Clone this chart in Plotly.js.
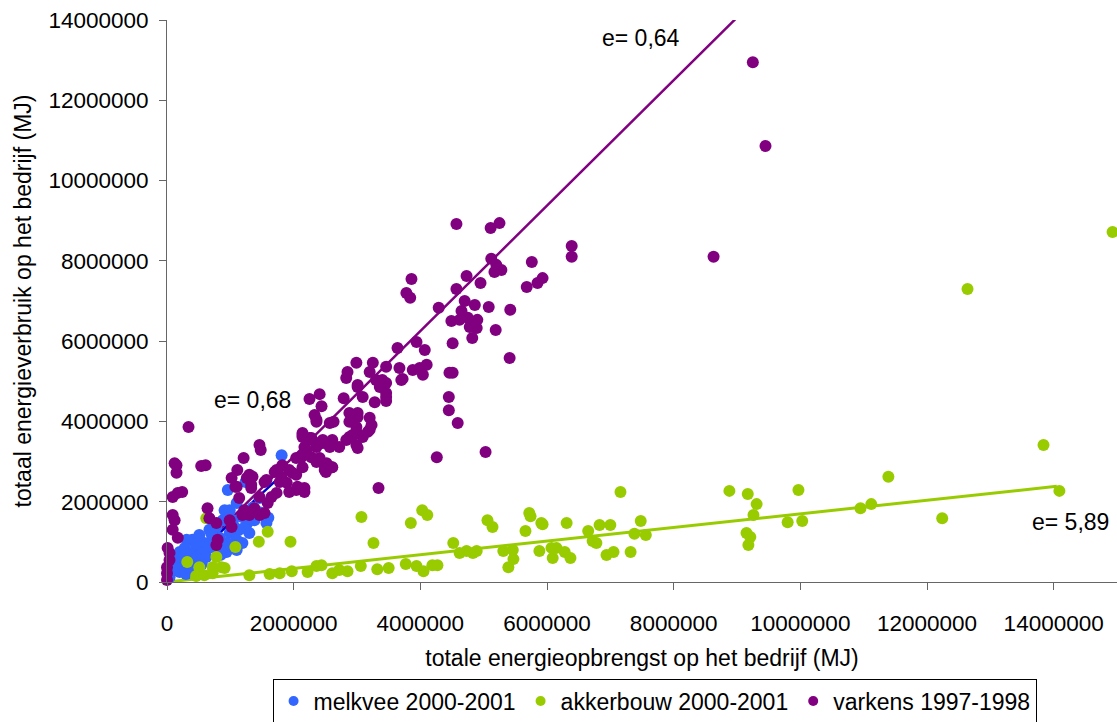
<!DOCTYPE html>
<html>
<head>
<meta charset="utf-8">
<script src="https://cdn.plot.ly/plotly-3.0.1.min.js"></script>
<style>
  html, body { margin: 0; padding: 0; background: #ffffff; }
  #chart { width: 1117px; height: 722px; }
</style>
</head>
<body>
<div id="chart"></div>
<script>
// Energy balance per farm: total energy yield (x) against total energy use (y).
// All values below are in millions of MJ.

const seriesNames = ['melkvee 2000-2001', 'akkerbouw 2000-2001', 'varkens 1997-1998'];

// melkvee 2000-2001
const melkveeX = [1.81,0.96,1.24,0.91,1.10,1.46,1.38,1.57,1.27,1.14,0.99,1.10,0.94,0.83,0.67,0.51,0.40,0.31,0.59,0.67,0.46,0.36,0.20,0.15,0.25,0.09,0.40,0.56,0.80,0.94,1.19,1.30,0.78,1.04,0.88,1.19,1.46,0.99,0.46,0.20,0.31,0.51,0.72,1.10,0.20,0.04,0.36,0.62,0.75,0.85,1.02,0.55,0.30,1.22,1.35,1.60,0.70,1.05,0.45,0.28,0.12];
const melkveeY = [3.16,2.29,2.49,1.79,1.97,2.09,1.54,1.47,1.47,1.30,1.22,0.80,0.97,1.10,1.30,1.17,1.05,1.05,0.97,0.85,0.85,0.72,0.60,0.47,0.37,0.30,0.55,0.72,0.80,0.75,0.97,1.22,1.37,1.54,1.54,1.62,1.74,1.79,0.62,0.75,0.55,1.05,1.10,1.05,0.25,0.12,0.37,0.62,0.95,0.68,0.90,0.45,0.20,1.35,1.85,1.60,1.20,1.40,0.95,0.85,0.40];

// akkerbouw 2000-2001
const akkerbouwX = [14.93,12.64,13.84,14.09,11.39,11.12,10.95,12.24,9.97,10.03,9.80,8.88,9.17,9.31,9.26,9.15,9.21,9.18,
  7.16,5.93,6.31,6.65,6.83,7.00,7.48,7.38,7.56,6.72,6.78,5.88,6.07,6.15,6.28,6.09,6.37,6.94,7.05,7.32,
  3.07,3.85,4.03,4.11,3.26,5.06,5.14,5.72,5.74,5.91,5.66,4.52,4.62,4.73,4.83,4.89,5.31,5.46,5.47,5.39,
  2.61,2.72,2.85,3.06,3.32,3.50,3.77,3.94,4.05,4.19,4.27,
  1.59,1.45,1.95,1.08,0.32,0.51,0.78,0.72,0.86,0.91,0.46,0.59,0.72,1.30,1.62,1.78,1.97,2.22,2.36,2.44,0.62];
const akkerbouwY = [8.72,7.30,3.41,2.27,2.62,1.94,1.84,1.59,2.29,1.52,1.49,2.27,2.19,1.94,1.67,1.22,1.12,0.92,
  2.24,1.44,1.47,1.27,1.42,1.42,1.52,1.20,1.17,1.02,0.97,0.77,0.85,0.85,0.75,0.60,0.60,0.67,0.75,0.75,
  1.62,1.47,1.79,1.67,0.97,1.54,1.37,1.72,1.64,1.47,1.27,0.97,0.72,0.77,0.72,0.77,0.77,0.80,0.57,0.37,
  0.22,0.30,0.27,0.40,0.32,0.35,0.45,0.40,0.27,0.42,0.42,
  1.25,1.00,1.00,0.87,0.50,0.37,0.62,0.37,0.37,0.35,0.15,0.17,0.22,0.17,0.20,0.22,0.27,0.25,0.40,0.42,1.59];

// varkens 1997-1998
const varkensX = [9.25,9.45,8.63,6.39,6.39,
  0.34,0.12,0.15,0.17,0.24,0.54,0.61,1.46,1.48,1.21,1.02,1.11,1.26,1.35,1.08,1.33,1.54,1.70,1.78,1.82,1.93,2.04,2.12,2.20,2.14,2.28,2.36,2.46,2.36,2.49,2.51,2.60,2.57,2.72,2.04,2.17,1.93,1.73,
  2.25,2.41,2.44,2.33,2.36,2.63,2.79,2.85,2.83,2.99,3.01,3.09,3.20,3.25,3.30,3.36,3.46,3.46,3.46,3.46,3.28,2.88,3.01,2.88,2.99,3.20,3.23,3.17,3.09,2.88,2.83,2.99,3.01,2.99,
  3.64,3.67,3.72,3.94,4.07,3.88,3.99,4.10,4.04,3.40,4.29,4.51,4.46,4.51,4.45,4.45,4.59,4.26,5.03,3.34,
  4.57,5.11,5.25,5.12,5.20,5.17,5.28,5.76,5.68,5.85,5.93,4.73,4.95,4.57,4.70,4.86,5.08,5.42,4.65,4.49,4.62,4.75,4.90,4.78,4.89,4.82,5.19,5.41,3.86,3.78,3.84,
  2.49,2.46,2.93,3.20,3.01,3.46,3.01,3.36,3.70,2.14,2.25,2.17,2.28,
  0.15,0.09,0.09,0.12,0.09,0.17,0.01,0.04,0.00,0.00,0.00,0.04,
  0.64,0.67,0.78,0.99,1.02,0.80,0.78,1.10,1.14,1.22,1.19,1.30,1.46,1.54,1.38,1.59,1.65,1.46,1.30,1.33,1.57,1.73,1.81,1.89,2.06,2.17,1.98,2.14,2.04,2.20,2.14,2.28,2.36,2.41,2.52,2.61,2.61,2.57,2.36];
const varkensY = [12.95,10.86,8.10,8.37,8.10,
  3.86,2.96,2.72,2.22,2.24,2.89,2.91,3.41,3.29,3.09,2.59,2.79,2.59,2.62,2.37,2.34,2.49,2.74,2.49,2.91,2.79,2.67,3.11,3.29,3.61,3.59,3.46,3.54,2.99,2.91,2.74,2.86,3.36,3.36,2.29,2.34,2.24,2.22,
  4.56,4.68,4.38,4.16,4.04,3.99,4.58,5.23,5.08,5.46,4.91,4.61,5.23,5.46,5.03,4.86,5.36,4.96,4.61,4.51,4.48,4.21,4.11,3.99,3.86,4.09,3.91,3.74,3.61,3.61,3.54,3.41,3.34,3.74,
  5.83,5.33,5.06,5.98,5.78,5.28,5.33,5.41,5.16,5.03,6.83,5.95,5.21,5.21,4.61,4.28,3.96,3.11,3.24,2.34,
  8.92,8.82,8.94,8.05,7.90,7.72,7.77,7.97,7.35,7.45,7.57,7.62,7.45,7.30,7.00,6.90,6.85,6.78,6.75,6.50,6.53,6.58,6.53,6.35,6.33,6.08,6.28,5.58,7.55,7.20,7.08,
  2.79,3.46,3.66,3.79,4.21,4.71,4.86,4.96,5.03,3.71,3.59,3.36,3.11,
  2.91,2.12,1.67,1.54,1.30,1.10,0.85,0.72,0.37,0.22,0.05,0.55,
  1.84,1.59,1.47,1.54,1.37,1.05,0.92,2.37,2.09,1.79,1.67,1.67,1.67,1.72,1.84,1.97,2.12,2.12,2.67,2.42,2.54,2.79,2.62,2.47,2.37,2.24,2.72,2.86,3.09,3.24,3.66,3.54,3.36,3.09,2.96,2.86,3.54,3.96,3.99];

// Energy efficiency e (yield / use) per sector, with the x-span of each trend line
const eMelkvee = 0.68;
const eAkkerbouw = 5.89;
const eVarkens = 0.64;
const melkveeLineX = [0, 1.81];
const akkerbouwLineX = [0, 14.05];
const varkensLineX = [0, 9.45];

const xTicks = [0, 2, 4, 6, 8, 10, 12, 14];
const yTicks = [0, 2, 4, 6, 8, 10, 12, 14];

const colors = { melkvee: '#3366ff', melkveeLine: '#0000cc', akkerbouw: '#99cc00', varkens: '#800080' };
const FONT = 'Arial, "Liberation Sans", sans-serif';
const M = 1e6;
const toMJ = arr => arr.map(v => v * M);

function trend(xs, e) {
  return { x: toMJ(xs), y: toMJ(xs.map(v => v / e)) };
}

function points(xs, ys, color) {
  return {
    type: 'scatter', mode: 'markers',
    x: toMJ(xs), y: toMJ(ys),
    marker: { color: color, size: 12, line: { width: 0 } },
    cliponaxis: false, showlegend: false, hoverinfo: 'x+y'
  };
}

function line(xs, e, color, width) {
  const t = trend(xs, e);
  return {
    type: 'scatter', mode: 'lines', x: t.x, y: t.y,
    line: { color: color, width: width }, showlegend: false, hoverinfo: 'skip'
  };
}

function legendEntry(name, color) {
  return {
    type: 'scatter', mode: 'markers', x: [null], y: [null], name: name,
    marker: { color: color, size: 10 }, showlegend: true, hoverinfo: 'skip'
  };
}

const traces = [
  line(akkerbouwLineX, eAkkerbouw, colors.akkerbouw, 3),
  line(varkensLineX, eVarkens, colors.varkens, 2.5),
  line(melkveeLineX, eMelkvee, colors.melkveeLine, 2.5),
  points(melkveeX, melkveeY, colors.melkvee),
  points(akkerbouwX, akkerbouwY, colors.akkerbouw),
  points(varkensX, varkensY, colors.varkens),
  legendEntry(seriesNames[0], colors.melkvee),
  legendEntry(seriesNames[1], colors.akkerbouw),
  legendEntry(seriesNames[2], colors.varkens)
];

function fmtE(e) { return 'e= ' + e.toFixed(2).replace('.', ','); }

const axisCommon = {
  showgrid: false, zeroline: false,
  showline: true, linecolor: '#666666', linewidth: 1,
  ticks: 'outside', ticklen: 7, tickwidth: 1, tickcolor: '#666666',
  tickfont: { family: FONT, size: 22.5, color: '#000000' },
  automargin: false, fixedrange: true
};

const layout = {
  width: 1117, height: 722,
  margin: { l: 167, r: 0, t: 20, b: 140, pad: 0 },
  paper_bgcolor: '#ffffff', plot_bgcolor: '#ffffff',
  font: { family: FONT, size: 23, color: '#000000' },
  xaxis: Object.assign({}, axisCommon, {
    range: [0, 15 * M],
    tickvals: toMJ(xTicks), ticktext: toMJ(xTicks).map(v => String(v)),
    ticklabelstandoff: 14,
    title: { text: 'totale energieopbrengst op het bedrijf (MJ)', font: { family: FONT, size: 23 }, standoff: 14 }
  }),
  yaxis: Object.assign({}, axisCommon, {
    range: [0, 14 * M],
    tickvals: toMJ(yTicks), ticktext: toMJ(yTicks).map(v => String(v)),
    ticklabelstandoff: 6,
    title: { text: 'totaal energieverbruik op het bedrijf (MJ)', font: { family: FONT, size: 23 }, standoff: 10 }
  }),
  showlegend: true,
  legend: {
    orientation: 'h', xref: 'container', yref: 'container',
    x: 0.586, xanchor: 'center', y: 0.029, yanchor: 'middle',
    bordercolor: '#000000', borderwidth: 1, bgcolor: '#ffffff',
    font: { family: FONT, size: 23, color: '#000000' },
    itemwidth: 30, tracegroupgap: 0
  },
  annotations: [
    { xref: 'x', yref: 'y', x: 7.49 * M, y: 13.55 * M, text: fmtE(eVarkens), showarrow: false, font: { family: FONT, size: 23, color: '#000' } },
    { xref: 'x', yref: 'y', x: 1.35 * M, y: 4.53 * M, text: fmtE(eMelkvee), showarrow: false, font: { family: FONT, size: 23, color: '#000' } },
    { xref: 'x', yref: 'y', x: 14.27 * M, y: 1.49 * M, text: fmtE(eAkkerbouw), showarrow: false, font: { family: FONT, size: 23, color: '#000' } }
  ]
};

Plotly.newPlot('chart', traces, layout, { displayModeBar: false, staticPlot: true });
</script>
</body>
</html>
